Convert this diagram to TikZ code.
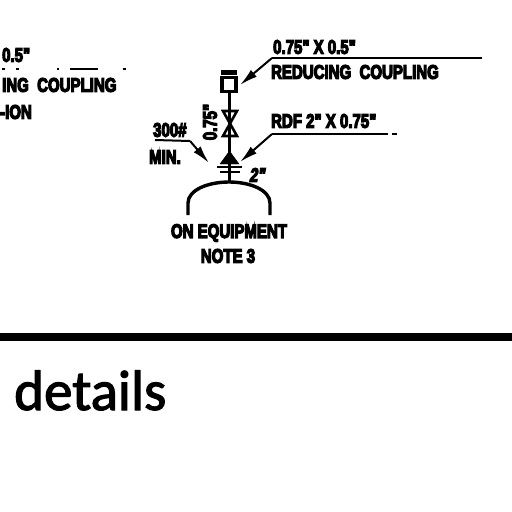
\documentclass[tikz,border=0pt]{standalone}
\usepackage{fontspec}
\newfontfamily\cadfont[FakeBold=7]{Liberation Sans}
\newfontfamily\detailfont[FakeBold=2]{Carlito}
\usetikzlibrary{positioning,arrows.meta}
\tikzset{
	cadlabel/.style = {inner sep=0pt, font=\cadfont\bfseries\fontsize{19.5}{19.5}\selectfont, xscale=0.77, transform shape},
	leader/.style = {draw, line width=2pt},
	pointer/.style = {draw, line width=2pt, -{Latex[length=18pt,width=9pt]}},
	pipe/.style = {draw, line width=3.4pt},
	fitting/.style = {draw, line width=3.4pt, fill=white}
}
\begin{document}
\begin{tikzpicture}[x=1pt,y=-1pt]
		\useasboundingbox (0,0) rectangle (512,512);
		
		%left column, cut off by the page
		\node [cadlabel, anchor=west] (lsize) at (2,55) {0.5"};
		\node [cadlabel, anchor=west] (lcoupling) at (2,85) {ING\ \ COUPLING};
		\node [cadlabel, anchor=west] (lnote) at (0,112) {-ION};
		\coordinate (ldashl) at (2,68.5);
		\coordinate (ldashr) at (126,68.5);
		\path [draw, line width=2pt, dash pattern=on 3pt off 11pt on 3pt off 38pt on 2pt off 11pt on 28pt off 25pt on 3pt off 9pt] (ldashl) -- (ldashr);
		
		%labels
		\node [cadlabel, anchor=west] (size) at (273,47) {0.75" X 0.5"};
		\node [cadlabel, anchor=west] (coupling) at (271,72) {REDUCING\ \ COUPLING};
		\node [cadlabel, anchor=west] (rdf) at (271,121) {RDF 2" X 0.75"};
		\node [cadlabel, anchor=west] (rating) at (153,130) {300\#};
		\node [cadlabel, anchor=west] (minlabel) at (149,157) {MIN.};
		\node [rotate=90, cadlabel] (bore) at (210,122) {0.75"};
		\node [cadlabel, anchor=west, xslant=0.2] (nozzle) at (250,175) {2"};
		\node [cadlabel, anchor=center] (equip) at (229,233) {ON EQUIPMENT};
		\node [cadlabel, anchor=center] (note) at (228,256) {NOTE 3};
		
		%pipe run
		\coordinate (stemtop) at (229.5,90);
		\coordinate (stemend) at (229.5,183);
		\path [pipe] (stemtop) -- (stemend);
		\node [fitting, inner sep=0pt, minimum size=14pt] (socket) at (229,84.5) {};
		\coordinate (capl) at (221,72.5);
		\coordinate (capr) at (237,72.5);
		\path [draw, line width=5pt] (capl) -- (capr);
		
		%valve and reducer
		\coordinate (vtl) at (223,111);
		\coordinate (vtr) at (237,111);
		\coordinate (vbl) at (223,136);
		\coordinate (vbr) at (237,136);
		\path [draw, line width=2.6pt] (vtl) -- (vtr) -- (vbl) -- (vbr) -- cycle;
		\coordinate (redt) at (229.5,151);
		\coordinate (redl) at (220,164);
		\coordinate (redr) at (239,164);
		\path [draw, fill=black] (redt) -- (redl) -- (redr) -- cycle;
		\coordinate (flangel) at (217,167);
		\coordinate (flanger) at (242,167);
		\path [draw, line width=2.6pt] (flangel) -- (flanger);
		\coordinate (flangell) at (220,172);
		\coordinate (flangelr) at (240,172);
		\path [draw, line width=2.6pt] (flangell) -- (flangelr);
		
		%equipment head
		\coordinate (hl) at (188,215);
		\coordinate (hr) at (270,215);
		\path [draw, line width=3.4pt] (hl) -- (188,203) .. controls (188,190) and (208,182) .. (229,182) .. controls (250,182) and (270,190) .. (270,203) -- (hr);
		
		%leaders
		\coordinate (sizel) at (272,58);
		\coordinate (sizer) at (482,58);
		\coordinate (sizetip) at (240,85);
		\path [leader] (sizer) -- (sizel);
		\path [pointer] (sizel) -- (sizetip);
		\coordinate (rdfl) at (272,134);
		\coordinate (rdfr) at (388,134);
		\coordinate (rdftip) at (240,162);
		\path [leader] (rdfr) -- (rdfl);
		\path [pointer] (rdfl) -- (rdftip);
		\coordinate (rdfdashl) at (392,134);
		\coordinate (rdfdashr) at (397,134);
		\path [leader] (rdfdashl) -- (rdfdashr);
		\coordinate (ratel) at (155,140);
		\coordinate (rater) at (190,141);
		\coordinate (ratetip) at (209,163);
		\path [leader] (ratel) -- (rater);
		\path [pointer] (rater) -- (ratetip);
		
		%rule and title
		\coordinate (rulel) at (0,337);
		\coordinate (ruler) at (512,337);
		\path [draw, line width=8pt] (rulel) -- (ruler);
		\node [inner sep=0pt, anchor=base west, font=\detailfont\fontsize{57}{57}\selectfont] (details) at (14,410) {details};
		
	\end{tikzpicture}
\end{document}
